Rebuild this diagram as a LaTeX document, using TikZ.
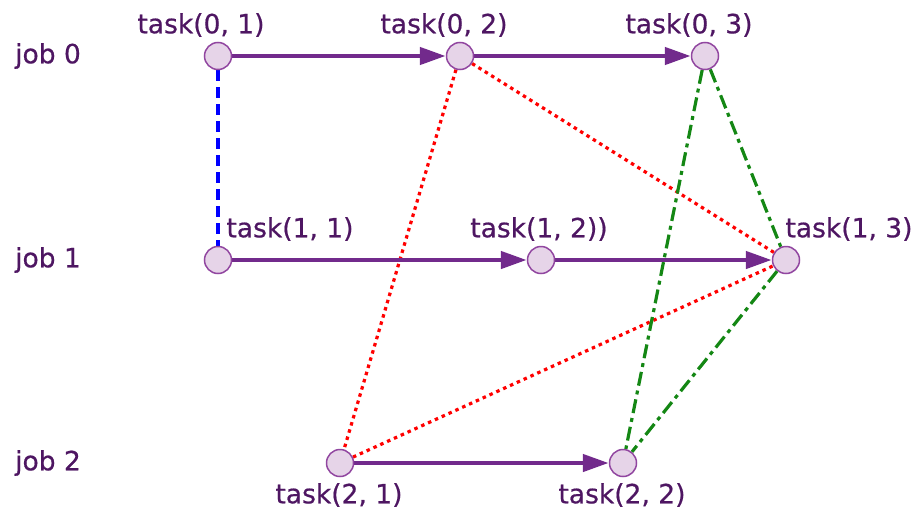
\documentclass[tikz,border=0pt]{standalone}
\usepackage{fontspec}
\setmainfont{DejaVu Sans}[FakeBold=0.6]
\usetikzlibrary{arrows.meta,backgrounds}
\definecolor{arrowpurple}{RGB}{114,42,140}
\definecolor{textpurple}{RGB}{78,22,98}
\definecolor{nodefill}{RGB}{230,212,232}
\definecolor{nodedraw}{RGB}{145,70,160}
\definecolor{dgreen}{RGB}{20,135,20}
\tikzset{
  task/.style={circle,draw=nodedraw,fill=nodefill,line width=1.5pt,minimum size=27pt,inner sep=0pt},
  lbl/.style={text=textpurple,font=\fontsize{26.5}{30}\selectfont,inner sep=0pt},
  seq/.style={draw=arrowpurple,line width=4.5pt,-{Triangle[length=26pt,width=17pt]}},
  blueline/.style={draw=blue,line width=3.2pt,dash pattern=on 11pt off 6pt},
  redline/.style={draw=red,line width=3.2pt,dash pattern=on 3.5pt off 4pt},
  greenline/.style={draw=dgreen,line width=3.2pt,dash pattern=on 14pt off 5pt on 4pt off 5pt},
}
\begin{document}
\begin{tikzpicture}[x=1pt,y=-1pt]
\useasboundingbox (0,0) rectangle (920,514);
% nodes
\node[task] (t01) at (218,56) {};
\node[task] (t02) at (460,56) {};
\node[task] (t03) at (705,56) {};
\node[task] (t11) at (218,260) {};
\node[task] (t12) at (541,260) {};
\node[task] (t13) at (786,260) {};
\node[task] (t21) at (340,463) {};
\node[task] (t22) at (623,463) {};
% job labels
\node[lbl] (j0) at (48,56) {job 0};
\node[lbl] (j1) at (48,260) {job 1};
\node[lbl] (j2) at (48,463) {job 2};
% task labels
\node[lbl] (l01) at (201,25) {task(0, 1)};
\node[lbl] (l02) at (444,25) {task(0, 2)};
\node[lbl] (l03) at (689,25) {task(0, 3)};
\node[lbl] (l11) at (290,229) {task(1, 1)};
\node[lbl] (l12) at (539,229) {task(1, 2))};
\node[lbl] (l13) at (849,229) {task(1, 3)};
\node[lbl] (l21) at (339,495) {task(2, 1)};
\node[lbl] (l22) at (622,495) {task(2, 2)};
\begin{pgfonlayer}{background}
\draw[blueline] (t01) -- (t11);
\draw[redline] (t02) -- (t21);
\draw[redline] (t02) -- (t13);
\draw[redline] (t21) -- (t13);
\draw[greenline] (t03) -- (t22);
\draw[greenline] (t03) -- (t13);
\draw[greenline] (t13) -- (t22);
\draw[seq] (t01) -- (t02);
\draw[seq] (t02) -- (t03);
\draw[seq] (t11) -- (t12);
\draw[seq] (t12) -- (t13);
\draw[seq] (t21) -- (t22);
\end{pgfonlayer}
\end{tikzpicture}
\end{document}
